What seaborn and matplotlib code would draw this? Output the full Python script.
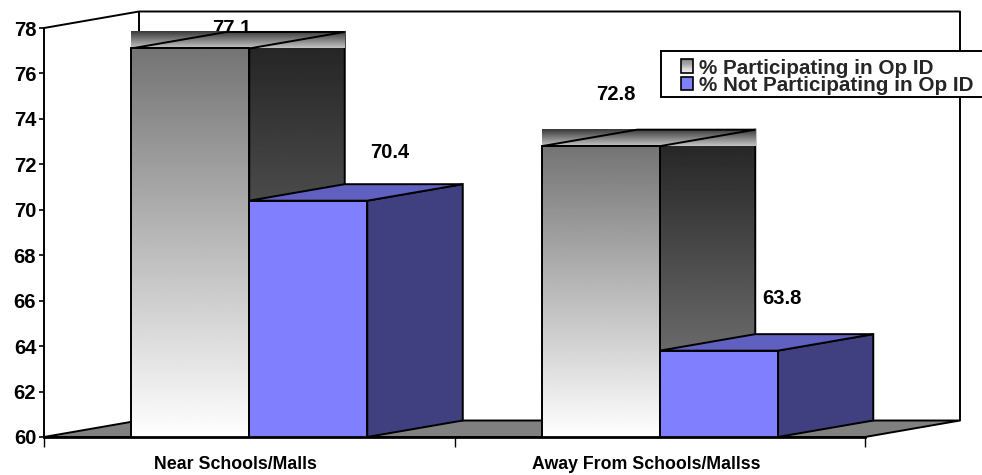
import matplotlib
matplotlib.use("Agg")
import matplotlib.pyplot as plt
import matplotlib.transforms as mtrans
from matplotlib.legend_handler import HandlerBase
from matplotlib.patches import Patch, Polygon, Rectangle
import numpy as np
import pandas as pd
import seaborn as sns

categories = ["Near Schools/Malls", "Away From Schools/Mallss"]
series_names = ["% Participating in Op ID", "% Not Participating in Op ID"]
participating = [77.1, 72.8]
not_participating = [70.4, 63.8]
y_ticks = list(range(60, 80, 2))

# value label offsets from the top centre of each bar, in pixels
label_offsets = {(0, 0): (42, 20), (0, 1): (81, 48), (1, 0): (15, 52), (1, 1): (63, 52)}

BLUE_FRONT, BLUE_SIDE, BLUE_TOP = "#8080ff", "#404080", "#6060c0"
FLOOR = "#808080"
LW = 1.4

sns.set_theme(style="white")
plt.rcParams["font.family"] = ["Liberation Sans", "DejaVu Sans"]
plt.rcParams["font.weight"] = "bold"

W, H = 982, 475
fig = plt.figure(figsize=(W / 100, H / 100), dpi=100, facecolor="white")
ax = fig.add_axes([44 / W, 1 - 437 / H, (865 - 44) / W, (437 - 28) / H])

df = pd.DataFrame({
    "category": categories * 2,
    "value": participating + not_participating,
    "series": [series_names[0]] * 2 + [series_names[1]] * 2,
})
sns.barplot(data=df, x="category", y="value", hue="series", hue_order=series_names,
            order=categories, palette=["#a0a0a0", BLUE_FRONT], width=0.575,
            gap=0, saturation=1, legend=False, ax=ax, zorder=3)

XMIN, XMAX, YMIN, YMAX = -0.5, 1.5, 60, 78
ax.set_xlim(XMIN, XMAX)
ax.set_ylim(YMIN, YMAX)
px_x = (XMAX - XMIN) / 821
px_y = (YMAX - YMIN) / 409
DX, DY = 95.5 * px_x, 16.5 * px_y
WALL_DX = 95 * px_x


def gradient(extent, top, bottom, zorder, clip=None):
    ramp = np.linspace(top, bottom, 256).reshape(-1, 1) / 255
    im = ax.imshow(ramp, cmap="gray", vmin=0, vmax=1, aspect="auto", origin="upper",
                   extent=extent, interpolation="bilinear", zorder=zorder)
    im.set_clip_box(fig.bbox)
    if clip is not None:
        im.set_clip_path(clip)
    return im


def poly(points, zorder, face="none", edge="black"):
    p = Polygon(points, closed=True, facecolor=face, edgecolor=edge, lw=LW,
                joinstyle="miter", zorder=zorder, clip_on=False)
    ax.add_patch(p)
    return p


# back wall, side wall and floor
floor_back = YMIN + DY
ax.add_line(plt.Line2D([XMIN, XMIN + WALL_DX, XMAX + WALL_DX, XMAX + WALL_DX],
                       [YMAX, YMAX + DY, YMAX + DY, floor_back],
                       color="black", lw=LW, clip_on=False, zorder=1))
ax.add_line(plt.Line2D([XMIN + WALL_DX, XMIN + WALL_DX], [floor_back, YMAX + DY],
                       color="black", lw=LW, clip_on=False, zorder=1))
poly([(XMIN, YMIN), (XMAX, YMIN), (XMAX + WALL_DX, floor_back), (XMIN + WALL_DX, floor_back)], 1.5, FLOOR)

# each bar is a front face from seaborn plus a side and a top drawn behind it
z = 3.0
for cat in range(2):
    for hue, container in enumerate(ax.containers):
        rect = container[cat]
        x0, w, top = rect.get_x(), rect.get_width(), rect.get_height()
        x1 = x0 + w
        side = [(x1, YMIN), (x1, top), (x1 + DX, top + DY), (x1 + DX, YMIN + DY)]
        lid = [(x0, top), (x1, top), (x1 + DX, top + DY), (x0 + DX, top + DY)]
        if hue == 0:
            clip = Polygon(side, closed=True, transform=ax.transData)
            gradient((x1, x1 + DX, YMIN + DY, top + DY), 0x22, 0x80, z, clip)
            poly(side, z + 0.1)
            gradient((x0, x1 + DX, top, top + DY), 0x38, 0xc4, z + 0.2)
            poly(lid, z + 0.3)
            clip = Polygon(rect.get_corners(), closed=True, transform=ax.transData)
            gradient((x0, x1, YMIN, top), 0x74, 0xff, z + 0.4, clip)
            rect.set_facecolor("none")
        else:
            poly(side, z + 0.1, BLUE_SIDE)
            poly(lid, z + 0.3, BLUE_TOP)
        rect.set_edgecolor("black")
        rect.set_linewidth(LW)
        rect.set_zorder(z + 0.5)
        off_x, off_y = label_offsets[(cat, hue)]
        # labels stay under the bars, so a tall lid can cover part of one
        ax.annotate(f"{top:.1f}", xy=(x0 + w / 2, top), xytext=(off_x * 0.72, off_y * 0.72),
                    textcoords="offset points", ha="center", va="center",
                    fontsize=14.5, fontweight="bold", color="black", zorder=2.5,
                    annotation_clip=False)
        z += 1

# axes and ticks
for name in ("top", "right"):
    ax.spines[name].set_visible(False)
for name in ("left", "bottom"):
    ax.spines[name].set_visible(True)
    ax.spines[name].set_color("black")
    ax.spines[name].set_linewidth(LW)
    ax.spines[name].set_zorder(20)
ax.spines["bottom"].set_linewidth(2.0)
ax.set_xlabel("")
ax.set_ylabel("")
ax.set_yticks(y_ticks)
ax.set_xticks([0, 1], categories)
ax.set_xticks([-0.5, 0.5, 1.5], minor=True)
ax.tick_params(axis="y", which="major", left=True, length=3.6, width=1.2, color="black",
               pad=2, labelsize=14.5, labelcolor="black")
ax.tick_params(axis="x", which="major", bottom=False, length=0, pad=13.5,
               labelsize=12.8, labelcolor="black")
ax.tick_params(axis="x", which="minor", bottom=True, length=7, width=1.0, color="black")
shift = mtrans.ScaledTranslation(-14 / 100, 0, fig.dpi_scale_trans)
for lab in ax.get_xticklabels():
    lab.set_transform(lab.get_transform() + shift)
    lab.set_fontweight("bold")
for lab in ax.get_yticklabels():
    lab.set_fontweight("bold")


class GradientSwatch(HandlerBase):
    """Legend key with a dark-to-light vertical ramp built from thin strips."""

    def create_artists(self, legend, orig, xd, yd, width, height, fontsize, trans):
        arts = []
        levels = np.linspace(0x80, 0xf4, 12) / 255
        for i, g in enumerate(levels):
            arts.append(Rectangle((-xd, -yd + height * (1 - (i + 1) / 12)), width, height / 12 + 0.2,
                                  facecolor=(g, g, g), edgecolor="none", transform=trans))
        arts.append(Rectangle((-xd, -yd), width, height, facecolor="none",
                              edgecolor="black", lw=1.2, transform=trans))
        return arts


# legend frame runs off the right edge of the figure
frame = Rectangle((661 / W, 1 - 97 / H), 340 / W, 46 / H, transform=fig.transFigure,
                  facecolor="white", edgecolor="black", lw=LW, clip_on=False, zorder=29)
ax.add_patch(frame)

handles = [Patch(facecolor="#b0b0b0", edgecolor="black", lw=1.2),
           Patch(facecolor=BLUE_FRONT, edgecolor="black", lw=1.2)]
leg = ax.legend(handles, series_names, loc="upper left",
                bbox_to_anchor=(680.5 / W, 1 - 58.5 / H), bbox_transform=fig.transFigure,
                handler_map={handles[0]: GradientSwatch()},
                frameon=False, borderpad=0, borderaxespad=0, labelspacing=-0.08,
                handlelength=0.6, handleheight=0.65, handletextpad=0.28,
                prop={"family": "Liberation Sans", "weight": "bold", "size": 14.9})
leg.set_zorder(30)

fig.savefig("out.png", dpi=100)
